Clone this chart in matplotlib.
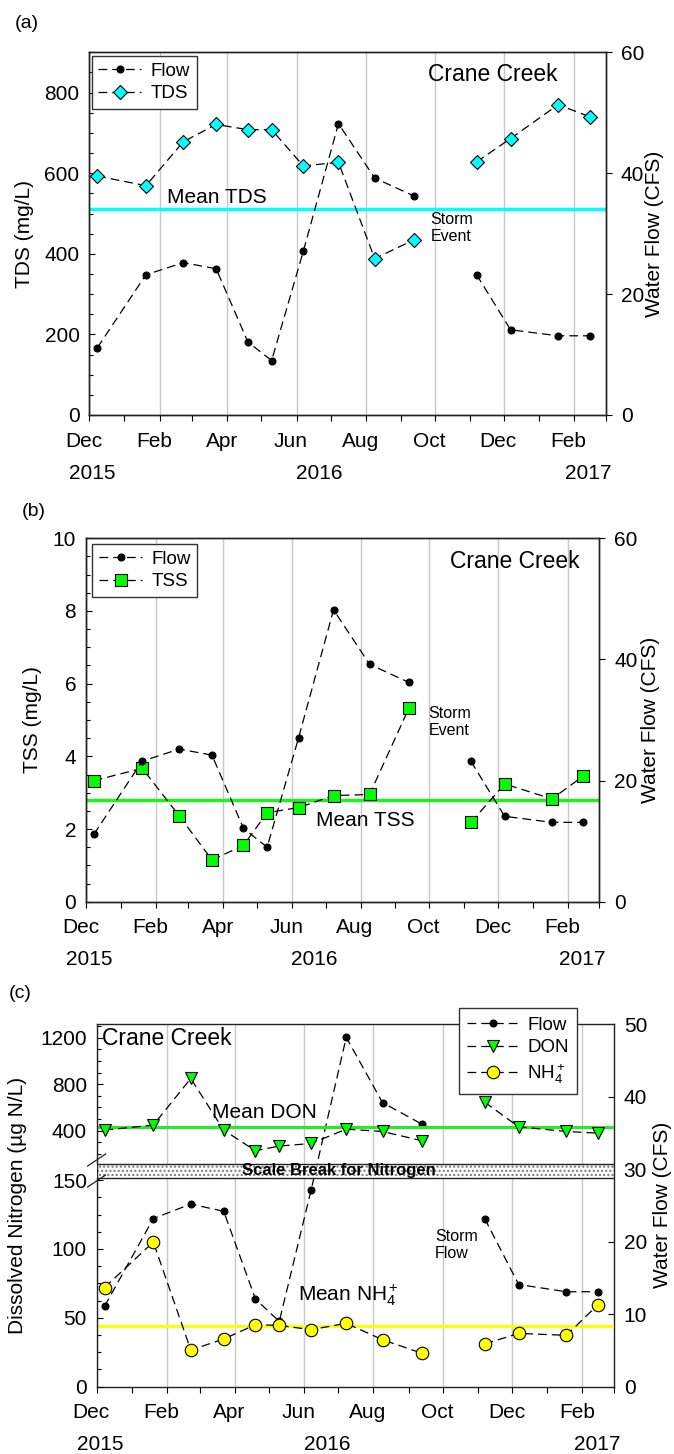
from datetime import datetime

import matplotlib
matplotlib.use('Agg')
import matplotlib.dates as mdates
import matplotlib.transforms as mtransforms
from matplotlib import pyplot as plt
from matplotlib.lines import Line2D
from matplotlib.patches import Rectangle
from matplotlib.ticker import AutoMinorLocator

plt.rcParams['font.family'] = ['Liberation Sans', 'DejaVu Sans']
plt.rcParams['mathtext.fontset'] = 'custom'
plt.rcParams['mathtext.rm'] = 'Liberation Sans'
plt.rcParams['mathtext.it'] = 'Liberation Sans:italic'

# Sampling dates and values.
dates = [datetime(2015, 12, 8), datetime(2016, 1, 20), datetime(2016, 2, 22),
         datetime(2016, 3, 22), datetime(2016, 4, 19), datetime(2016, 5, 10),
         datetime(2016, 6, 7), datetime(2016, 7, 8), datetime(2016, 8, 9),
         datetime(2016, 9, 13), datetime(2016, 11, 7), datetime(2016, 12, 7),
         datetime(2017, 1, 18), datetime(2017, 2, 15)]
flow = [11.1, 23.2, 25.2, 24.2, 12.1, 9.0, 27.1, 48.2, 39.2, 36.2, 23.2, 14.1, 13.1, 13.1]
tds = [593, 569, 678, 721, 708, 708, 618, 627, 388, 435, 628, 686, 770, 740]
tss = [3.33, 3.67, 2.36, 1.15, 1.55, 2.45, 2.59, 2.92, 2.95, 5.33, 2.18, 3.24, 2.83, 3.46]
don = [406, 449, 849, 406, 229, 269, 291, 414, 394, 314, 646, 434, 394, 380]
nh4 = [72, 105, 26.6, 34.6, 45, 44.5, 41.4, 46, 34.1, 24.2, 31, 38.7, 37.3, 59.6]
mean_tds = 511
mean_tss = 2.80
mean_don = 429
mean_nh4 = 44.3

years = ['2015', '2016', '2017']
year_pos = [datetime(2015, 12, 4), datetime(2016, 6, 21), datetime(2017, 2, 14)]

# the line breaks between the Sep and Nov samples
segments = [slice(0, 10), slice(10, 14)]

W, H = 674, 1454
fig = plt.figure(figsize=(W / 100, H / 100), dpi=100)


def rect(l, r, t, b):
    return [l / W, 1 - b / H, (r - l) / W, (b - t) / H]


def series(ax, y, label, **kw):
    for i, s in enumerate(segments):
        ax.plot(dates[s], y[s], color='black', lw=0.9, dashes=(7, 4),
                mec='black', mew=0.8, label=label if i == 0 else None, **kw)


def style_spines(ax):
    for sp in ax.spines.values():
        sp.set_color('#222222')
        sp.set_linewidth(1.0)


def setup_x(ax):
    ax.set_xlim(datetime(2015, 12, 1), datetime(2017, 3, 1))
    ax.xaxis.set_major_locator(mdates.MonthLocator(bymonth=[2, 4, 6, 8, 10, 12]))
    ax.xaxis.set_minor_locator(mdates.MonthLocator())
    ax.xaxis.set_major_formatter(mdates.DateFormatter('%b'))
    ax.tick_params(axis='x', which='both', direction='out', length=4, width=0.8,
                   pad=8, labelsize=15)
    ax.grid(axis='x', which='major', color='#c8c8c8', lw=1)
    shift = mtransforms.ScaledTranslation(-5.5 / 100, 0, fig.dpi_scale_trans)
    for lbl in ax.get_xticklabels():
        lbl.set_transform(lbl.get_transform() + shift)
    for yr, d in zip(years, year_pos):
        ax.annotate(yr, xy=(d, 0), xycoords=('data', 'axes fraction'),
                    xytext=(0, -41.8), textcoords='offset points',
                    ha='center', va='center', fontsize=15)


def setup_left(ax, lim, ticks):
    ax.set_ylim(*lim)
    ax.set_yticks(ticks)
    ax.yaxis.set_minor_locator(AutoMinorLocator(4))
    ax.tick_params(axis='y', which='major', direction='in', length=4, width=0.8,
                   pad=7, labelsize=15)
    ax.tick_params(axis='y', which='minor', direction='in', length=3, width=0.8)


def setup_right(ax, lim, ticks, direction='out'):
    ax.set_ylim(*lim)
    ax.set_yticks(ticks)
    ax.tick_params(axis='y', direction=direction, length=4, width=0.8,
                   pad=7, labelsize=15)


def legend(handles, labels, x, y, pad=0.35, hl=2.3):
    leg = fig.legend(handles, labels, loc='upper left', bbox_to_anchor=(x / W, 1 - y / H),
                     fontsize=13.5, fancybox=False, framealpha=1, edgecolor='#333333',
                     borderaxespad=0, borderpad=pad, handlelength=hl,
                     handletextpad=0.5, labelspacing=0.3, numpoints=1)
    leg.get_frame().set_linewidth(1.0)


def flow_line(ax):
    series(ax, flow, 'Flow', marker='o', ms=5, mfc='black')


# ---------------- (a) TDS ----------------
ax = fig.add_axes(rect(89.3, 605.7, 52.3, 415))
ax2 = ax.twinx()
series(ax, tds, 'TDS', marker='D', ms=7.5, mfc='#00ffff')
ax.axhline(mean_tds, color='#00ffff', lw=2.5, zorder=1.8)
flow_line(ax2)
setup_x(ax)
setup_left(ax, (0, 900), [0, 200, 400, 600, 800])
setup_right(ax2, (0, 60), [0, 20, 40, 60])
style_spines(ax)
style_spines(ax2)
ax.text(0.151, 0.600, 'Mean TDS', transform=ax.transAxes, fontsize=15, va='center')
ax.text(0.661, 0.515, 'Storm\nEvent', transform=ax.transAxes, fontsize=11.5,
        va='center', linespacing=1.15)
ax.text(0.655, 0.939, 'Crane Creek', transform=ax.transAxes, fontsize=16.5, va='center')
h1, l1 = ax2.get_legend_handles_labels()
h2, l2 = ax.get_legend_handles_labels()
legend(h1 + h2, l1 + l2, 91.5, 56)
fig.text(27 / W, 1 - 23 / H, '(a)', fontsize=14, ha='center', va='center')
fig.text(24.7 / W, 1 - 234 / H, 'TDS (mg/L)', fontsize=15, rotation=90, ha='center', va='center')
fig.text(654 / W, 1 - 234 / H, 'Water Flow (CFS)', fontsize=15, rotation=90, ha='center', va='center')

# ---------------- (b) TSS ----------------
ax = fig.add_axes(rect(85.9, 599.2, 538.3, 901.7))
ax2 = ax.twinx()
series(ax, tss, 'TSS', marker='s', ms=9, mfc='#00ff00')
ax.axhline(mean_tss, color='#22ee22', lw=2.5, zorder=1.8)
flow_line(ax2)
setup_x(ax)
setup_left(ax, (0, 10), [0, 2, 4, 6, 8, 10])
setup_right(ax2, (0, 60), [0, 20, 40, 60])
style_spines(ax)
style_spines(ax2)
ax.text(0.448, 0.223, 'Mean TSS', transform=ax.transAxes, fontsize=15, va='center')
ax.text(0.667, 0.495, 'Storm\nEvent', transform=ax.transAxes, fontsize=11.5,
        va='center', linespacing=1.15)
ax.text(0.709, 0.937, 'Crane Creek', transform=ax.transAxes, fontsize=16.5, va='center')
h1, l1 = ax2.get_legend_handles_labels()
h2, l2 = ax.get_legend_handles_labels()
legend(h1 + h2, l1 + l2, 92.4, 544)
fig.text(34 / W, 1 - 512 / H, '(b)', fontsize=14, ha='center', va='center')
fig.text(33 / W, 1 - 720 / H, 'TSS (mg/L)', fontsize=15, rotation=90, ha='center', va='center')
fig.text(650 / W, 1 - 720 / H, 'Water Flow (CFS)', fontsize=15, rotation=90, ha='center', va='center')

# ---------------- (c) Nitrogen with scale break ----------------
L, R, T, B = 96.6, 614, 1024.3, 1386.7
brk_top, brk_bot = 1164, 1178
axc = fig.add_axes(rect(L, R, T, B))
flow_line(axc)
setup_x(axc)
axc.yaxis.tick_right()
setup_right(axc, (0, 50), [0, 10, 20, 30, 40, 50], direction='in')
axc.tick_params(axis='y', left=False, labelleft=False)
style_spines(axc)
axc.spines['left'].set_visible(False)
y0 = (B - brk_bot) / (B - T)
y1 = (B - brk_top) / (B - T)
axc.add_patch(Rectangle((0, y0), 1, y1 - y0, transform=axc.transAxes, facecolor='white',
                        edgecolor='#777777', hatch='....', lw=0, zorder=3))
axc.add_patch(Rectangle((0, y0), 1, y1 - y0, transform=axc.transAxes, fill=False,
                        edgecolor='#222222', lw=1, zorder=3.1))
axc.text(0.468, (y0 + y1) / 2, 'Scale Break for Nitrogen', transform=axc.transAxes,
         fontsize=12, fontweight='bold', ha='center', va='center', zorder=4)

axu = fig.add_axes(rect(L, R, T, brk_top), facecolor='none')
axl = fig.add_axes(rect(L, R, brk_bot, B), facecolor='none')
for a in (axu, axl):
    a.set_xlim(datetime(2015, 12, 1), datetime(2017, 3, 1))
    a.tick_params(axis='x', which='both', bottom=False, labelbottom=False)
    style_spines(a)
    for k in ('top', 'right', 'bottom'):
        a.spines[k].set_visible(False)
series(axu, don, 'DON', marker='v', ms=8.5, mfc='#00ff00')
axu.axhline(mean_don, color='#22ee22', lw=2.2, zorder=1.8)
setup_left(axu, (115, 1314), [400, 800, 1200])
series(axl, nh4, 'NH$_4^+$', marker='o', ms=9, mfc='#ffff00')
axl.axhline(mean_nh4, color='#ffff00', lw=2.2, zorder=1.8)
setup_left(axl, (0, 151.5), [0, 50, 100, 150])

# break marks on the left spine
for yc in (brk_top - 4, brk_bot + 3):
    fig.add_artist(Line2D([(L - 9) / W, (L + 9) / W],
                          [1 - (yc + 6) / H, 1 - (yc - 6) / H],
                          color='#222222', lw=0.9))

axc.text(0.010, 0.961, 'Crane Creek', transform=axc.transAxes, fontsize=16.5, va='center')
axc.text(0.224, 0.758, 'Mean DON', transform=axc.transAxes, fontsize=15, va='center')
axc.text(0.390, 0.253, 'Mean NH$_4^+$', transform=axc.transAxes, fontsize=15, va='center')
axc.text(0.654, 0.391, 'Storm\nFlow', transform=axc.transAxes, fontsize=11.5,
         va='center', linespacing=1.15)
h1, l1 = axc.get_legend_handles_labels()
h2, l2 = axu.get_legend_handles_labels()
h3, l3 = axl.get_legend_handles_labels()
legend(h1 + h2 + h3, l1 + l2 + l3, 459, 1008, pad=0.45, hl=2.7)
fig.text(20 / W, 1 - 993 / H, '(c)', fontsize=14, ha='center', va='center')
fig.text(17.6 / W, 1 - 1205 / H, 'Dissolved Nitrogen (µg N/L)', fontsize=15, rotation=90,
         ha='center', va='center')
fig.text(663 / W, 1 - 1205 / H, 'Water Flow (CFS)', fontsize=15, rotation=90,
         ha='center', va='center')

plt.savefig('out.png', dpi=100)
